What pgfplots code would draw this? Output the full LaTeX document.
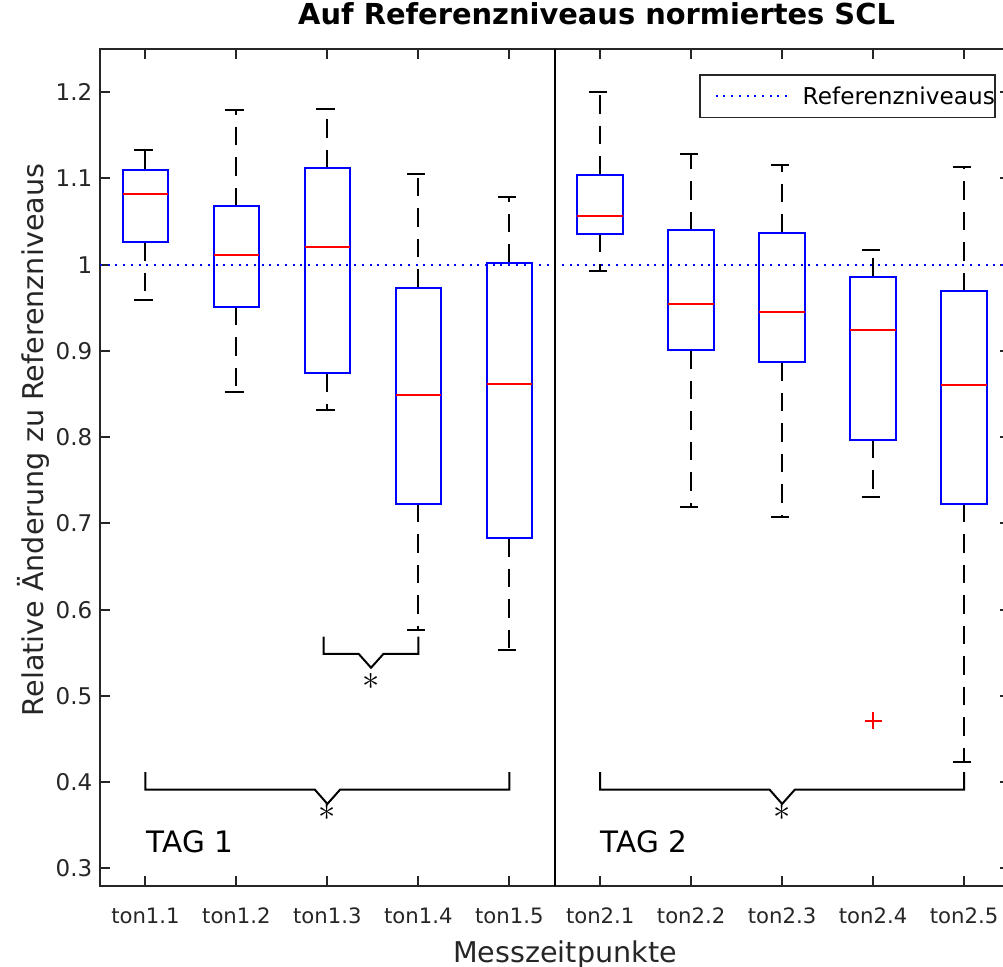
\documentclass[border=0pt]{standalone}
\usepackage{fontspec}
\setmainfont{DejaVu Sans}
\usepackage{pgfplots}
\pgfplotsset{compat=1.18}
\usepgfplotslibrary{statistics}
\definecolor{axgray}{RGB}{38,38,38}
\begin{document}
\begin{tikzpicture}
\begin{axis}[
  at={(0,0)}, anchor=south west,
  scale only axis, width=454.75bp, height=418.35bp,
  xmin=0.5, xmax=10.5, ymin=0.28, ymax=1.25,
  axis line style={axgray, line width=1bp},
  tick style={axgray, line width=1bp},
  major tick length=5bp,
  tick align=inside, xtick pos=both, ytick pos=both,
  xtick={1,2,3,4,5,6,7,8,9,10},
  xticklabels={ton1.1,ton1.2,ton1.3,ton1.4,ton1.5,ton2.1,ton2.2,ton2.3,ton2.4,ton2.5},
  ytick={0.3,0.4,0.5,0.6,0.7,0.8,0.9,1,1.1,1.2},
  /pgf/number format/assume math mode=true,
  xticklabel style={font=\fontsize{10.6bp}{12bp}\selectfont, text=axgray, anchor=base, inner sep=0pt, yshift=-18.8bp},
  yticklabel style={font=\fontsize{11.5bp}{13bp}\selectfont, text=axgray, anchor=east, inner sep=0pt, xshift=-3.65bp},
  title={Auf Referenzniveaus normiertes SCL},
  title style={at={(axis description cs:0.546,1.0155)}, anchor=base, inner sep=0pt, font=\bfseries\fontsize{14.45bp}{17bp}\selectfont},
  xlabel={Messzeitpunkte},
  xlabel style={at={(axis description cs:0.5113,-0.0916)}, anchor=base, inner sep=0pt, text=axgray, font=\fontsize{14.3bp}{17bp}\selectfont},
  ylabel={Relative Änderung zu Referenzniveaus},
  ylabel style={at={(axis description cs:-0.0621,0.5327)}, anchor=base, inner sep=0pt, text=axgray, font=\fontsize{14.3bp}{17bp}\selectfont},
  legend style={at={(0.9848,0.9701)}, anchor=north east, draw=axgray, line width=0.8bp, fill=white,
    inner xsep=0pt, inner ysep=6.5bp, column sep=0pt,
    font=\fontsize{11.6bp}{13bp}\selectfont,
    nodes={inner sep=0pt, text height=8.4bp, text depth=0pt, text=black}},
  legend cell align=left,
  legend image code/.code={\draw[#1] (8bp,0bp) -- (44bp,0bp); \path[draw=none] (0bp,0bp) (51.5bp,0bp);},
  boxplot/draw direction=y,
  boxplot/box extend=0.5,
  boxplot/whisker extend=0.25,
  boxplot/every box/.style={draw=blue, line width=1bp},
  boxplot/every whisker/.style={draw=black, line width=1bp, dash pattern=on 9.25bp off 6bp},
  boxplot/every median/.style={draw=red, line width=1bp},
  boxplot/draw/.code={%
    \draw[/pgfplots/boxplot/every whisker/.try]
      (boxplot box cs:\pgfplotsboxplotvalue{lower whisker},0.5) -- (boxplot box cs:\pgfplotsboxplotvalue{lower quartile},0.5);
    \draw[/pgfplots/boxplot/every whisker/.try]
      (boxplot box cs:\pgfplotsboxplotvalue{upper quartile},0.5) -- (boxplot box cs:\pgfplotsboxplotvalue{upper whisker},0.5);
    \draw[draw=black, line width=1bp, solid]
      (boxplot box cs:\pgfplotsboxplotvalue{lower whisker},0.23) -- (boxplot box cs:\pgfplotsboxplotvalue{lower whisker},0.77)
      (boxplot box cs:\pgfplotsboxplotvalue{upper whisker},0.23) -- (boxplot box cs:\pgfplotsboxplotvalue{upper whisker},0.77);
    \draw[/pgfplots/boxplot/every box/.try]
      (boxplot box cs:\pgfplotsboxplotvalue{lower quartile},0) rectangle (boxplot box cs:\pgfplotsboxplotvalue{upper quartile},1);
    \draw[/pgfplots/boxplot/every median/.try]
      (boxplot box cs:\pgfplotsboxplotvalue{median},0) -- (boxplot box cs:\pgfplotsboxplotvalue{median},1);
  },
]
% reference level
\addplot[blue, line width=1bp, dash pattern=on 1bp off 2.85bp] coordinates {(0.5,1) (10.5,1)};
\addlegendentry{Referenzniveaus\hspace{2bp}}

% boxplots
\addplot[forget plot, boxplot prepared={draw position=1, lower whisker=0.959, lower quartile=1.026, median=1.082, upper quartile=1.110, upper whisker=1.133}] coordinates {};
\addplot[forget plot, boxplot prepared={draw position=2, lower whisker=0.852, lower quartile=0.951, median=1.011, upper quartile=1.068, upper whisker=1.179}] coordinates {};
\addplot[forget plot, boxplot prepared={draw position=3, lower whisker=0.831, lower quartile=0.874, median=1.021, upper quartile=1.112, upper whisker=1.180}] coordinates {};
\addplot[forget plot, boxplot prepared={draw position=4, lower whisker=0.577, lower quartile=0.723, median=0.849, upper quartile=0.973, upper whisker=1.105}] coordinates {};
\addplot[forget plot, boxplot prepared={draw position=5, lower whisker=0.553, lower quartile=0.683, median=0.862, upper quartile=1.002, upper whisker=1.079}] coordinates {};
\addplot[forget plot, boxplot prepared={draw position=6, lower whisker=0.993, lower quartile=1.036, median=1.056, upper quartile=1.104, upper whisker=1.200}] coordinates {};
\addplot[forget plot, boxplot prepared={draw position=7, lower whisker=0.719, lower quartile=0.901, median=0.954, upper quartile=1.040, upper whisker=1.128}] coordinates {};
\addplot[forget plot, boxplot prepared={draw position=8, lower whisker=0.707, lower quartile=0.887, median=0.945, upper quartile=1.037, upper whisker=1.115}] coordinates {};
\addplot[forget plot, red, mark=+, mark size=4.25bp, mark options={red, solid, line width=1bp}, boxplot prepared={draw position=9, lower whisker=0.731, lower quartile=0.797, median=0.924, upper quartile=0.986, upper whisker=1.017}] table[row sep=\\, y index=0] {0.471\\};
\addplot[forget plot, boxplot prepared={draw position=10, lower whisker=0.423, lower quartile=0.723, median=0.861, upper quartile=0.969, upper whisker=1.113}] coordinates {};

% divider between days
\addplot[forget plot, black, line width=1bp] coordinates {(5.5,0.28) (5.5,1.25)};

% significance brackets
\addplot[forget plot, black, line width=1bp] coordinates {(1,0.4116) (1,0.3914) (2.862,0.3914) (3,0.3748) (3.14,0.3914) (5,0.3914) (5,0.4116)};
\addplot[forget plot, black, line width=1bp] coordinates {(6,0.4116) (6,0.3914) (7.862,0.3914) (8,0.3748) (8.14,0.3914) (10,0.3914) (10,0.4116)};
\addplot[forget plot, black, line width=1bp] coordinates {(2.96,0.5689) (2.96,0.5489) (3.343,0.5489) (3.48,0.5327) (3.618,0.5489) (4.0,0.5489) (4.0,0.5689)};

\node[inner sep=0pt, anchor=center, font=\fontsize{16.5bp}{18bp}\selectfont] at (axis cs:3,0.365) {$\ast$};
\node[inner sep=0pt, anchor=center, font=\fontsize{16.5bp}{18bp}\selectfont] at (axis cs:8,0.365) {$\ast$};
\node[inner sep=0pt, anchor=center, font=\fontsize{16.5bp}{18bp}\selectfont] at (axis cs:3.48,0.5166) {$\ast$};

\node[inner sep=0pt, anchor=base west, font=\fontsize{14.75bp}{17bp}\selectfont] at (axis cs:1.008,0.3186) {TAG 1};
\node[inner sep=0pt, anchor=base west, font=\fontsize{14.75bp}{17bp}\selectfont] at (axis cs:6.0,0.3186) {TAG 2};
\end{axis}
\pgfresetboundingbox
\useasboundingbox (-50bp,-40.65bp) rectangle (451.5bp,442.85bp);
\end{tikzpicture}
\end{document}
